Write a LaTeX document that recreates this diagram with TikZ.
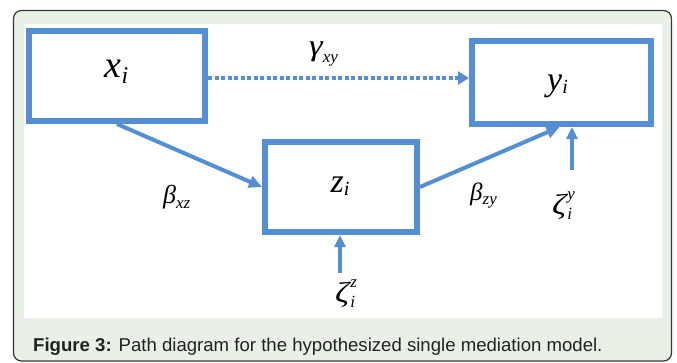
\documentclass[tikz,border=0pt]{standalone}
\usepackage{fontspec}
\setmainfont{Liberation Sans}
\newfontfamily\tnr{Liberation Serif}
\usetikzlibrary{arrows.meta,calc}
\definecolor{bblue}{RGB}{85,142,213}
\definecolor{bggreen}{RGB}{233,241,231}
\definecolor{framec}{RGB}{55,55,55}
\definecolor{captc}{RGB}{34,34,34}
% #1 main size, #2 main letter, #3 sub size, #4 sub drop, #5 sub
\newcommand\msym[5]{{\tnr\itshape\fontsize{#1}{#1}\selectfont #2\raisebox{-#4}{\fontsize{#3}{#3}\selectfont #5}}}
% #1 size, #2 hscale, #3 greek, #4 sub size, #5 drop, #6 sub
\newcommand\gsym[6]{{\tnr\itshape\fontsize{#1}{#1}\selectfont\scalebox{#2}[1]{#3}\raisebox{-#5}{\fontsize{#4}{#4}\selectfont #6}}}
% zeta with sub i and superscript #1
\newcommand\zsym[1]{{\tnr\itshape\fontsize{29}{29}\selectfont\scalebox{1.2}[1]{ζ}\hspace{1pt}\rlap{\raisebox{-5pt}{\fontsize{17}{17}\selectfont i}}\raisebox{15pt}{\fontsize{17}{17}\selectfont #1}}}
\begin{document}
\begin{tikzpicture}[x=1pt,y=-1pt,
  boxnode/.style={draw=bblue,line width=6pt,fill=white,inner sep=0pt,outer sep=3pt,text height=0pt,text depth=0pt},
  arr/.style={draw=bblue,line width=4pt,-{Triangle[length=13pt,width=12pt]}},
  smallarr/.style={draw=bblue,line width=3.5pt,-{Triangle[length=12pt,width=11pt]}},
  dotarr/.style={draw=bblue,line width=4pt,dash pattern=on 4pt off 2.5pt,-{Triangle[length=11pt,width=13pt]}},
  lbl/.style={inner sep=0pt,anchor=base west}]
\useasboundingbox (0,0) rectangle (677,362);
\draw[fill=bggreen,draw=framec,line width=1.2pt,rounded corners=8pt] (13.5,10.5) rectangle (671.5,361);
\fill[white] (24,24) rectangle (662,318);
\node[boxnode,minimum width=176pt,minimum height=90pt] (x) at (117,76) {\hspace*{-1pt}\raisebox{-1pt}{\msym{38}{x}{24}{6pt}{i}}};
\node[boxnode,minimum width=179pt,minimum height=83pt] (y) at (561.5,82.5) {\hspace*{-8pt}\raisebox{-7.5pt}{\msym{34}{y}{20}{3pt}{i}}};
\node[boxnode,minimum width=152pt,minimum height=90pt] (z) at (341,187) {\hspace*{-2pt}\raisebox{-5pt}{\msym{34}{z}{20}{3pt}{i}}};
\coordinate (g) at (0,78);
\draw[dotarr] (x.east |- g) -- (y.west |- g);
\draw[arr] (x.south) -- (z.west);
\draw[arr] (z.east) -- ($(y.south)+(-2,0)$);
\coordinate (zy) at (572,170);
\coordinate (zz) at (340,273);
\draw[smallarr] (zy) -- (zy |- y.south);
\draw[smallarr] (zz) -- (zz |- z.south);
\node[lbl] (gxy) at (309,55) {\gsym{30}{1.15}{γ}{17}{7pt}{xy}};
\node[lbl] (bxz) at (163,203) {\gsym{26}{1}{β}{17}{5pt}{xz}};
\node[lbl] (bzy) at (470,200) {\gsym{25}{1}{β}{17}{4pt}{zy}};
\node[lbl] (zetay) at (552,214) {\zsym{y}};
\node[lbl] (zetaz) at (335,302) {\zsym{z}};
\node[lbl,text=captc,font=\fontsize{18.6}{18.6}\selectfont] (cap) at (33,351) {\textbf{Figure 3:} Path diagram for the hypothesized single mediation model.};
\end{tikzpicture}
\end{document}
